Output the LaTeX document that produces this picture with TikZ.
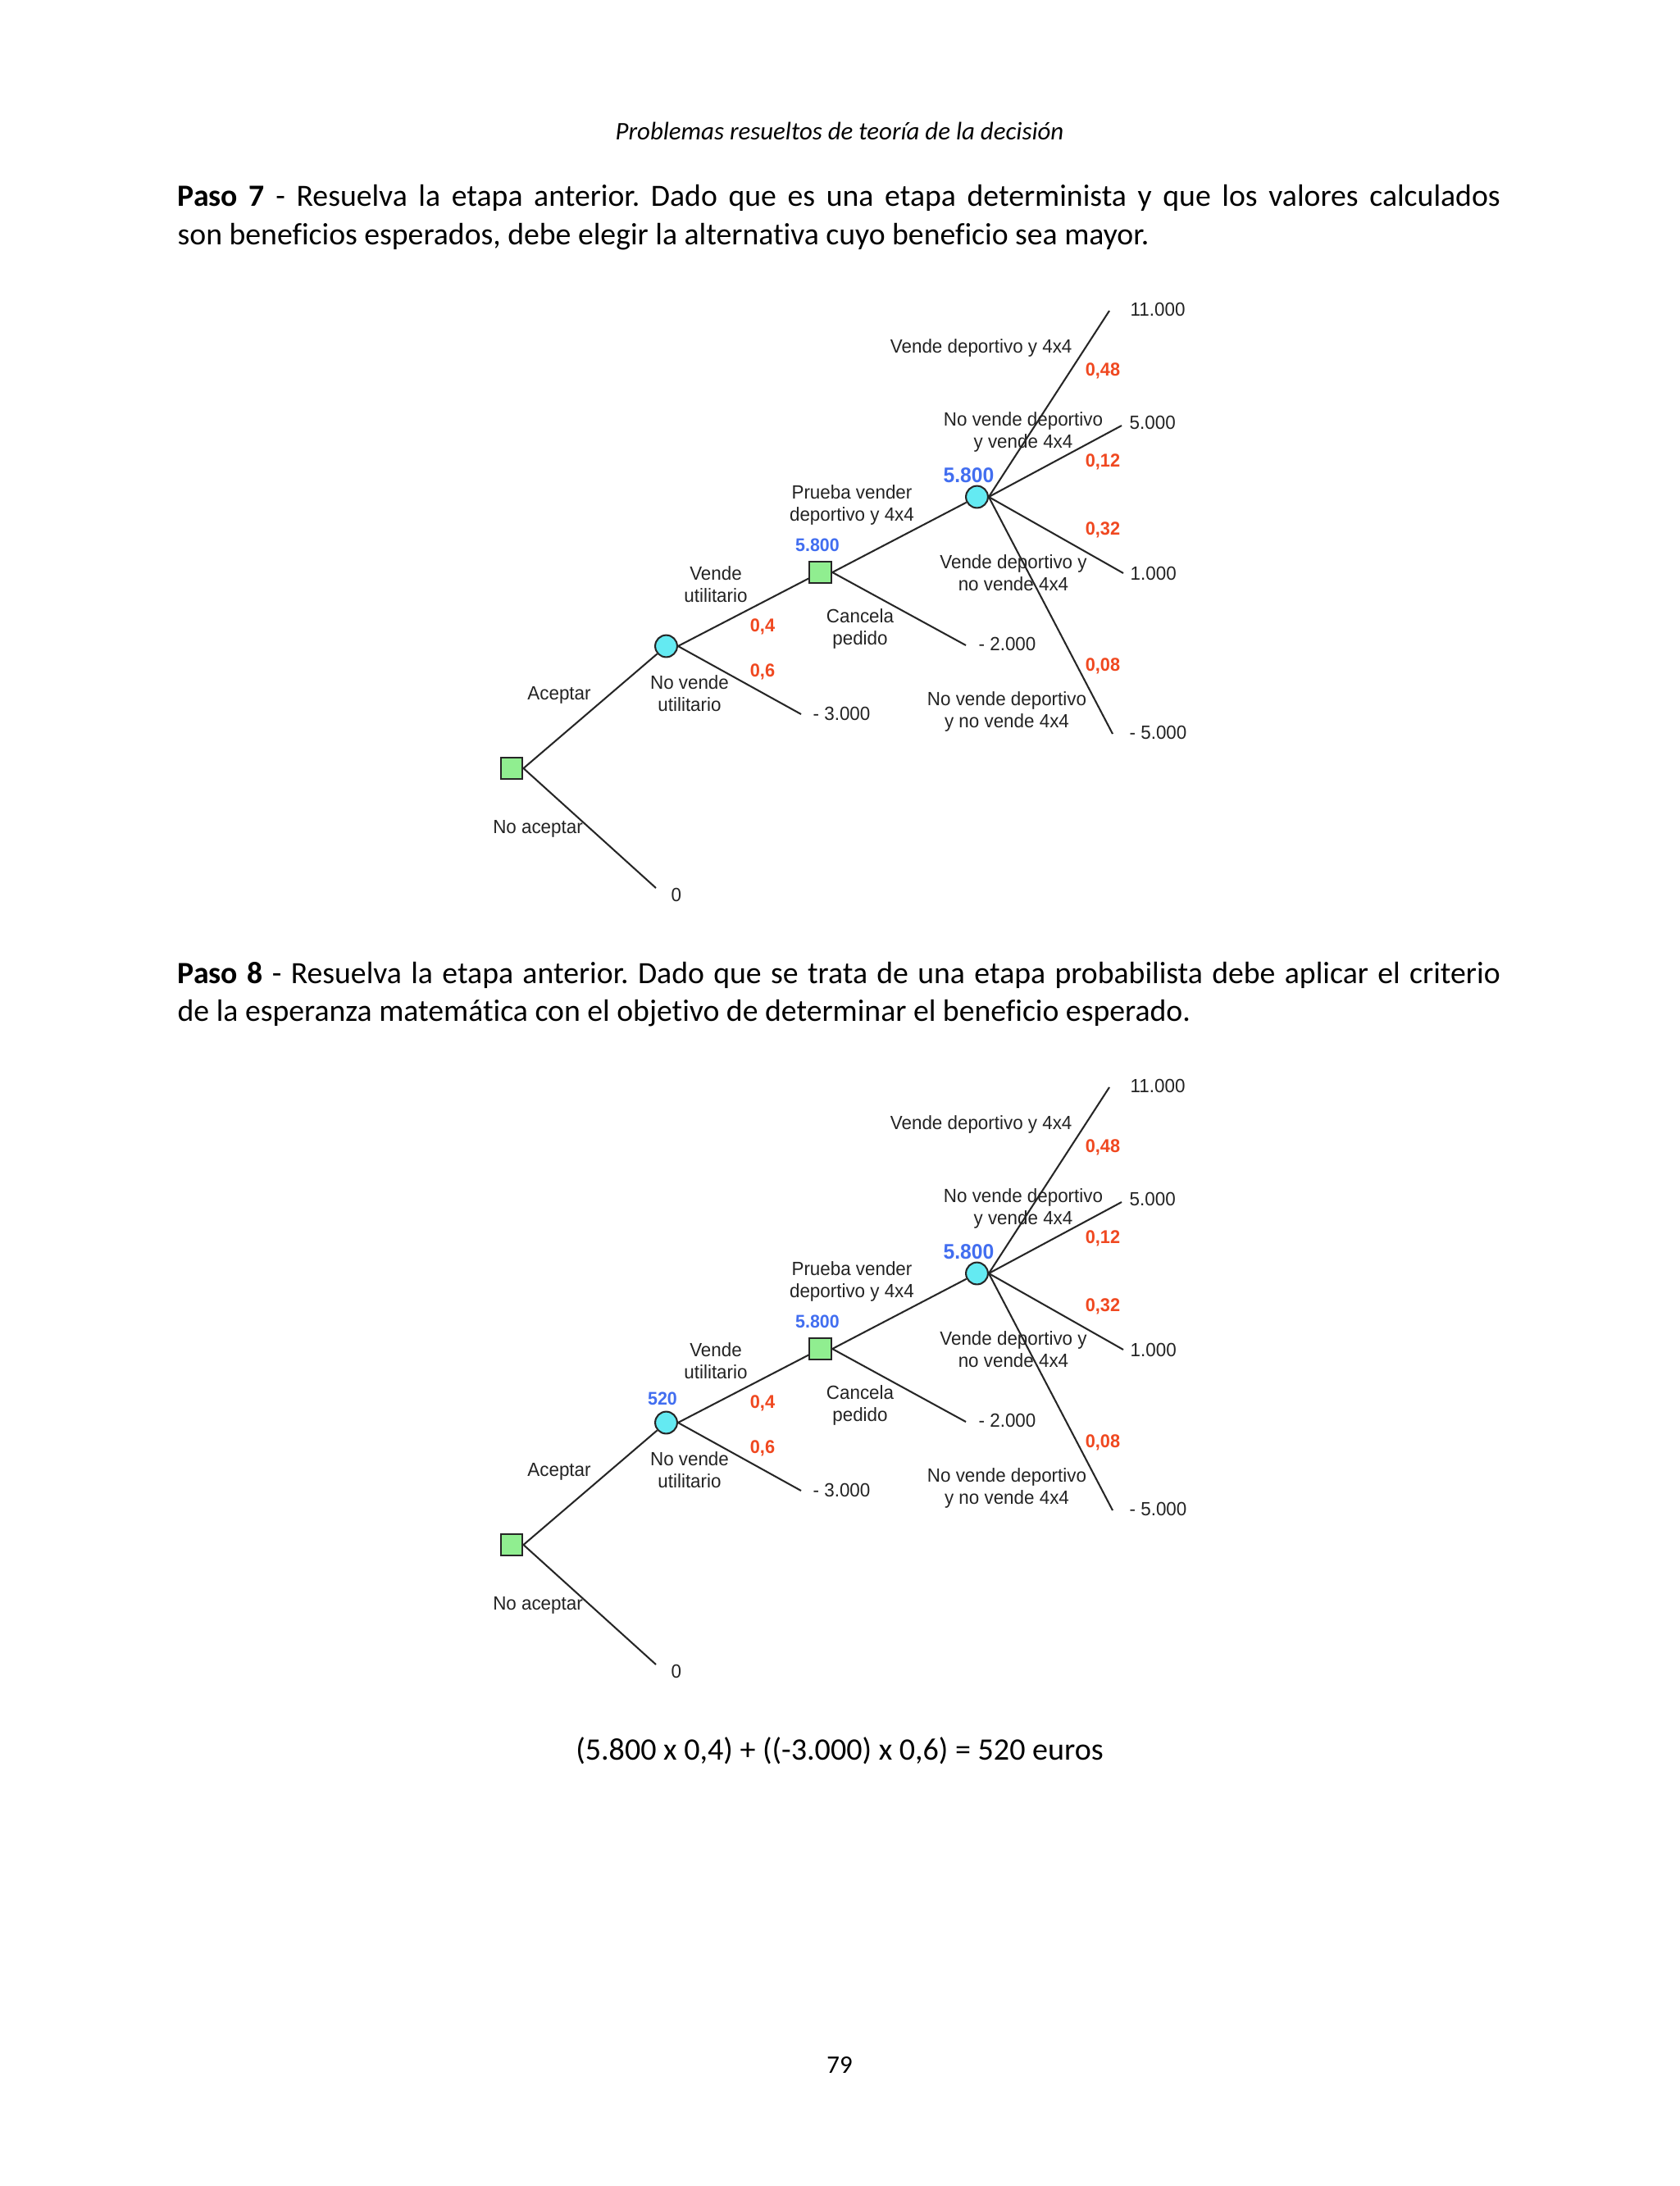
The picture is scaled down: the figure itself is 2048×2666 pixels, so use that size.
\documentclass[tikz,border=0pt]{standalone}
\usepackage{fontspec}
\setmainfont[Ligatures=NoCommon]{Carlito}
\newfontfamily\arialf[FakeStretch=0.96]{Liberation Sans}
\frenchspacing
\definecolor{sqgreen}{RGB}{144,238,144}
\definecolor{circyan}{RGB}{100,234,242}
\definecolor{valblue}{RGB}{66,110,240}
\definecolor{probred}{RGB}{240,72,32}
\definecolor{labgray}{RGB}{35,35,35}
\tikzset{
  dec/.style={draw=black!85, fill=sqgreen, line width=0.6pt, rectangle, minimum size=2.75mm, inner sep=0pt},
  chance/.style={draw=black!85, fill=circyan, line width=0.6pt, circle, minimum size=2.75mm, inner sep=0pt},
  branch/.style={draw=black!85, line width=0.6pt},
  lab/.style={font=\arialf\fontsize{6.8}{7.95}\selectfont, text=labgray, inner sep=0pt, align=center},
  endval/.style={lab, anchor=west},
  prob/.style={font=\arialf\fontsize{6.6}{7.9}\selectfont\bfseries, text=probred, inner sep=0pt},
  valsmall/.style={font=\arialf\fontsize{6.5}{7.8}\selectfont\bfseries, text=valblue, inner sep=0pt},
  valbig/.style={font=\arialf\fontsize{7.5}{9}\selectfont\bfseries, text=valblue, inner sep=0pt},
  body/.style={font=\fontsize{11}{13.4}\selectfont, inner sep=0pt, anchor=base west}
}
\newcommand\treebody{%
  \node[dec] (R) at (624,937) {};
  \node[chance] (C1) at (812.5,788) {};
  \node[dec] (D2) at (1000.7,698) {};
  \node[chance] (C2) at (1191.5,606) {};
  \coordinate (L11) at (1353,379);
  \coordinate (L5) at (1368,519);
  \coordinate (L1) at (1370,699);
  \coordinate (Lm5) at (1357,895);
  \coordinate (Lm2) at (1178,787);
  \coordinate (Lm3) at (977,871);
  \coordinate (L0) at (800,1083);
  \draw[branch] (R.east) -- (C1);
  \draw[branch] (R.east) -- (L0);
  \draw[branch] (C1.east) -- (D2);
  \draw[branch] (C1.east) -- (Lm3);
  \draw[branch] (D2.east) -- (C2);
  \draw[branch] (D2.east) -- (Lm2);
  \draw[branch] (C2.east) -- (L11);
  \draw[branch] (C2.east) -- (L5);
  \draw[branch] (C2.east) -- (L1);
  \draw[branch] (C2.east) -- (Lm5);
  \node[endval] (v11) at (1378,377) {11.000};
  \node[endval] (v5) at (1377,515) {5.000};
  \node[endval] (v1) at (1378,699) {1.000};
  \node[endval] (vm5) at (1377,893) {- 5.000};
  \node[endval] (vm2) at (1193,785) {- 2.000};
  \node[endval] (vm3) at (991,870) {- 3.000};
  \node[endval] (v0) at (818,1091) {0};
  \node[lab] (t11) at (1196.7,424) {Vende deportivo y 4x4};
  \node[prob] (p48) at (1345,452) {0,48};
  \node[lab] (t5) at (1248,527) {No vende deportivo\\y vende 4x4};
  \node[prob] (p12) at (1345,563) {0,12};
  \node[valbig] (e2) at (1181.5,580) {5.800};
  \node[prob] (p32) at (1345,646) {0,32};
  \node[lab] (t1) at (1236,699) {Vende deportivo y\\no vende 4x4};
  \node[prob] (p08) at (1345,812) {0,08};
  \node[lab] (tm5) at (1228,868) {No vende deportivo\\y no vende 4x4};
  \node[lab] (tpr) at (1039,616) {Prueba vender\\deportivo y 4x4};
  \node[valsmall] (e1) at (997,665) {5.800};
  \node[lab] (tca) at (1049,767) {Cancela\\pedido};
  \node[lab] (tvu) at (873,713) {Vende\\utilitario};
  \node[prob] (p4) at (930,764) {0,4};
  \node[prob] (p6) at (930,819) {0,6};
  \node[lab] (tnv) at (841,846) {No vende\\utilitario};
  \node[lab] (tac) at (682,848) {Aceptar};
  \node[lab] (tna) at (656,1011) {No aceptar};
}
\begin{document}
\begin{tikzpicture}[x=0.1025mm,y=-0.1025mm]
\useasboundingbox[fill=white] (0,0) rectangle (2048,2666);
\node[anchor=base, inner sep=0pt, font=\fontsize{9}{11}\selectfont\itshape] (hdr) at (1024,170) {Problemas resueltos de teoría de la decisión};
\node[body] (p7a) at (216,251) {\hbox to 165.33mm{\textbf{Paso 7} - Resuelva la etapa anterior. Dado que es una etapa determinista y que los valores calculados}};
\node[body] (p7b) at (216,298) {son beneficios esperados, debe elegir la alternativa cuyo beneficio sea mayor.};
\begin{scope}[name prefix=ta-]
\treebody
\end{scope}
\node[body] (p8a) at (216,1199) {\hbox to 165.33mm{\textbf{Paso 8} - Resuelva la etapa anterior. Dado que se trata de una etapa probabilista debe aplicar el criterio}};
\node[body] (p8b) at (216,1245) {de la esperanza matemática con el objetivo de determinar el beneficio esperado.};
\begin{scope}[shift={(0,947)}, name prefix=tb-]
\treebody
\node[valsmall] (e0) at (808,759) {520};
\end{scope}
\node[anchor=base, inner sep=0pt, font=\fontsize{11.1}{13.4}\selectfont] (form) at (1024,2146) {(5.800 x 0,4) + ((-3.000) x 0,6) = 520 euros};
\node[anchor=base, inner sep=0pt, font=\fontsize{9}{11}\selectfont] (pnum) at (1024,2528) {79};
\end{tikzpicture}
\end{document}
